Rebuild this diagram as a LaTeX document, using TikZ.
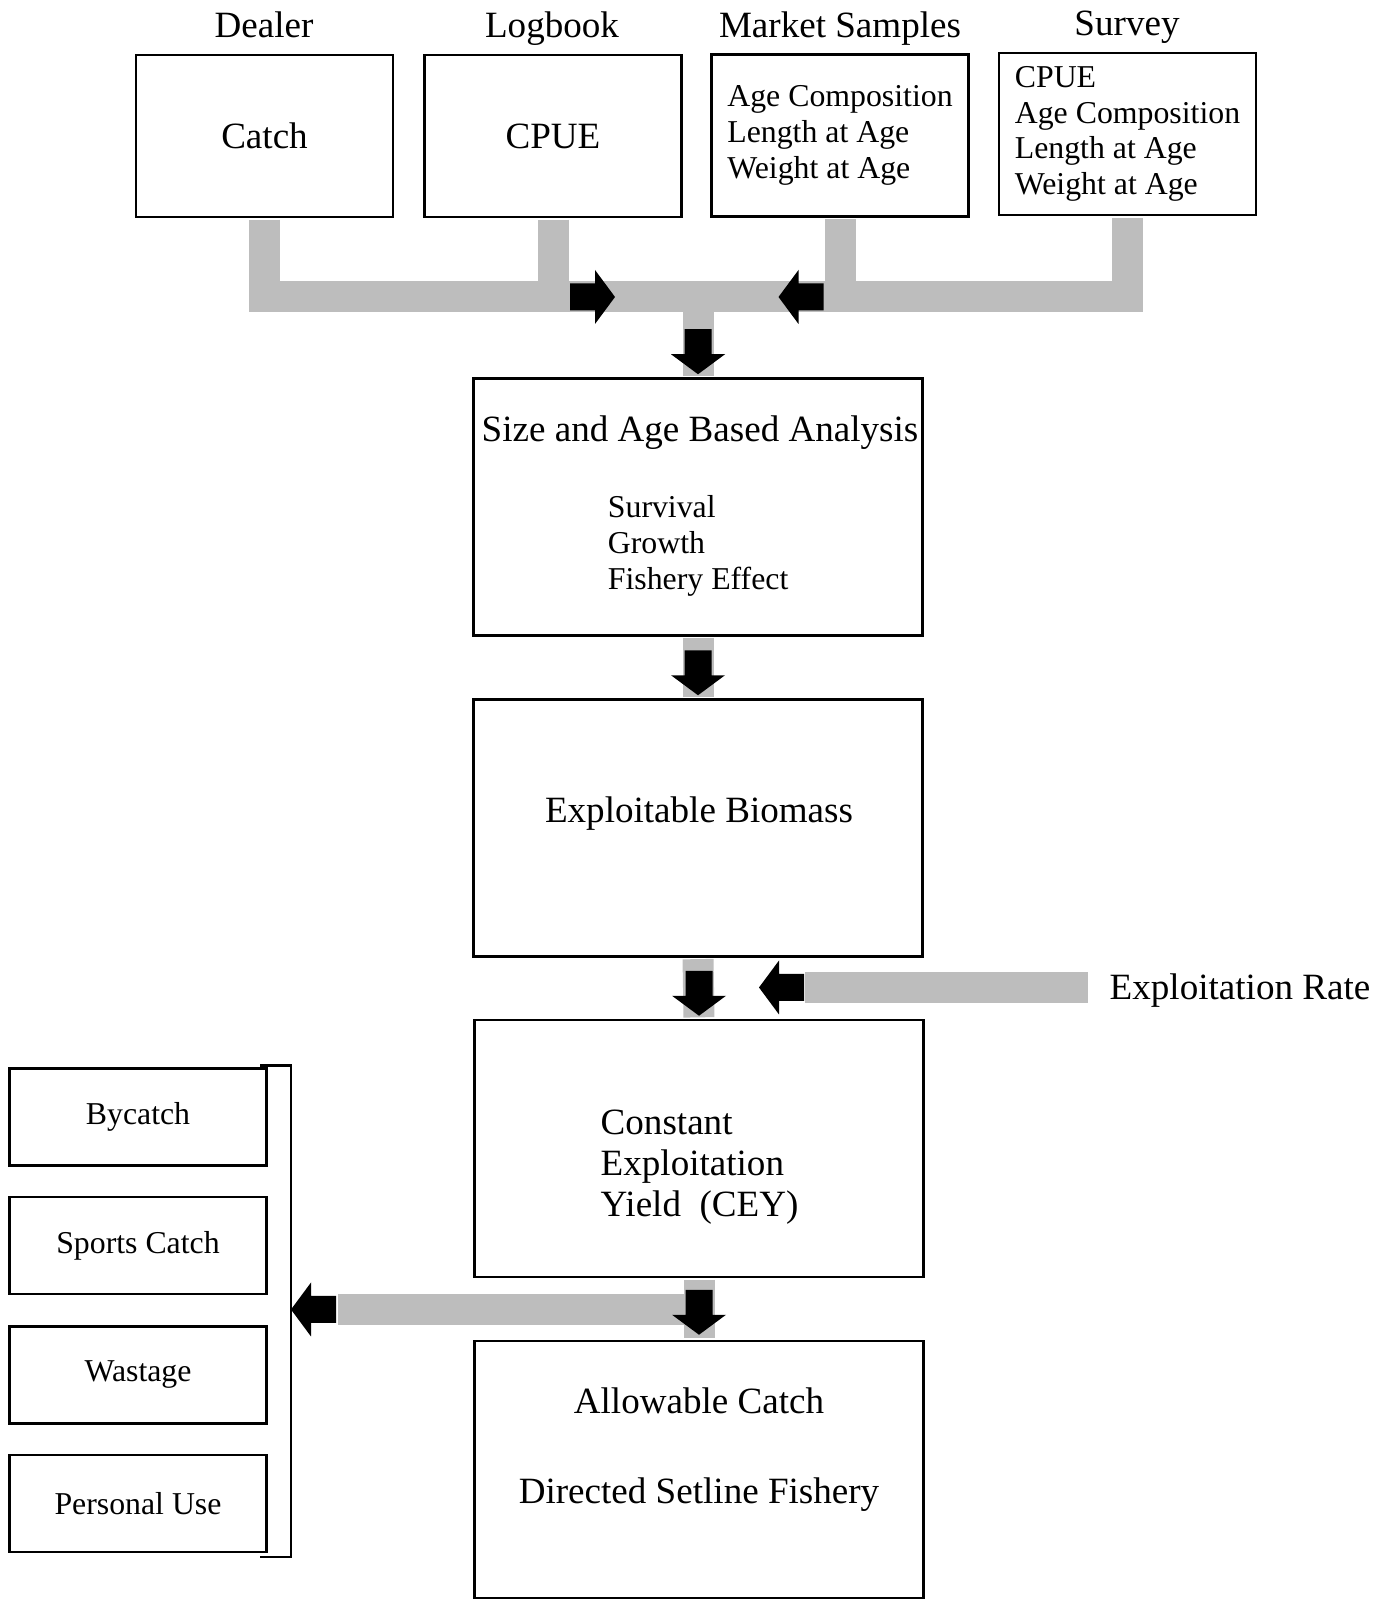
\documentclass[tikz,border=0pt]{standalone}
\usepackage{fontspec}
\setmainfont{Liberation Serif}
\usepackage{tikz}
\definecolor{balk}{HTML}{BDBDBD}
\tikzset{
  gross/.style={font=\fontsize{10.55}{11.7}\selectfont},
  klein/.style={font=\fontsize{9.05}{10.15}\selectfont},
  kasten/.style={draw=black,line width=0.7pt,minimum width=2.57cm,minimum height=1.62cm,inner sep=0pt},
  block/.style={draw=black,line width=0.7pt,minimum width=4.49cm,minimum height=2.57cm,inner sep=0pt},
  neben/.style={draw=black,line width=0.7pt,minimum width=2.57cm,minimum height=0.97cm,inner sep=0pt,klein},
  balken/.style={balk,line width=0.31cm,shorten <=0.4pt,shorten >=0.4pt},
  pfeil/.pic={\fill[black] (0,0)--(-0.2,0.27)--(-0.2,0.135)--(-0.45,0.135)--(-0.45,-0.135)--(-0.2,-0.135)--(-0.2,-0.27)--cycle;},
}
\begin{document}
\begin{tikzpicture}
  \useasboundingbox (0,0) rectangle (13.93,16);
  \node[gross,anchor=base] at (2.64,15.622) {Dealer};
  \node[gross,anchor=base] at (5.52,15.622) {Logbook};
  \node[gross,anchor=base] at (8.40,15.622) {Market Samples};
  \node[gross,anchor=base] at (11.27,15.643) {Survey};
  \node[kasten,gross] (dealer) at (2.645,14.64) {Catch};
  \node[kasten,gross] (logbook) at (5.53,14.64) {CPUE};
  \node[kasten,klein,align=left] (markt) at (8.40,14.645) {Age Composition\\Length at Age\\Weight at Age};
  \node[kasten,klein,align=left] (survey) at (11.275,14.66) {CPUE\\Age Composition\\Length at Age\\Weight at Age};
  \node[block] (groesse) at (6.98,10.93) {};
  \node[gross] at (7.00,11.67) {Size and Age Based Analysis};
  \node[klein,align=left,anchor=west,inner sep=0pt] at (6.072,10.54) {Survival\\Growth\\Fishery Effect};
  \node[block] (biomasse) at (6.98,7.72) {};
  \node[gross] at (6.99,7.86) {Exploitable Biomass};
  \node[block] (cey) at (6.99,4.515) {};
  \node[gross,align=left,anchor=west,inner sep=0pt] at (6.00,4.326) {Constant\\Exploitation\\Yield\ \ (CEY)};
  \node[block] (quote) at (6.99,1.305) {};
  \node[gross] at (6.99,1.99) {Allowable Catch};
  \node[gross] at (6.99,1.05) {Directed Setline Fishery};
  \node[gross,anchor=base west,inner sep=0pt] (rate) at (11.09,6.0) {Exploitation Rate};
  \node[neben] (bycatch) at (1.38,4.83) {Bycatch};
  \node[neben] (sports) at (1.38,3.545) {Sports Catch};
  \node[neben] (wastage) at (1.38,2.25) {Wastage};
  \node[neben] (personal) at (1.38,0.963) {Personal Use};
  \draw[line width=0.7pt] (2.60,5.346) -| (2.91,0.43) -- (2.60,0.43);
  \coordinate (mitte) at (6.98,13.03);
  \coordinate (klammer) at (2.91,2.905);
  \coordinate (rechts) at (10.89,6.125);
  \draw[balken] (dealer.south) |- (mitte) -| (survey.south);
  \draw[balken] (logbook.south) -- (logbook.south |- mitte);
  \draw[balken] (markt.south) -- (markt.south |- mitte);
  \draw[balken] (mitte) -- (groesse.north);
  \draw[balken] (groesse.south) -- (biomasse.north);
  \draw[balken] (biomasse.south) -- (cey.north);
  \draw[balken] (cey.south) -- (quote.north);
  \draw[balken] (rechts) -- (8.04,6.125);
  \draw[balken] (cey.south |- klammer) -- ([xshift=0.46cm]klammer);
  \pic at (6.15,13.03) {pfeil};
  \pic[rotate=180] at (7.785,13.03) {pfeil};
  \pic[rotate=-90] at ([yshift=0.03cm]groesse.north) {pfeil};
  \pic[rotate=-90] at ([yshift=0.03cm]biomasse.north) {pfeil};
  \pic[rotate=-90] at ([yshift=0.03cm]cey.north) {pfeil};
  \pic[rotate=-90] at ([yshift=0.05cm]quote.north) {pfeil};
  \pic[rotate=180] at (7.59,6.125) {pfeil};
  \pic[rotate=180] at (klammer) {pfeil};
\end{tikzpicture}
\end{document}
